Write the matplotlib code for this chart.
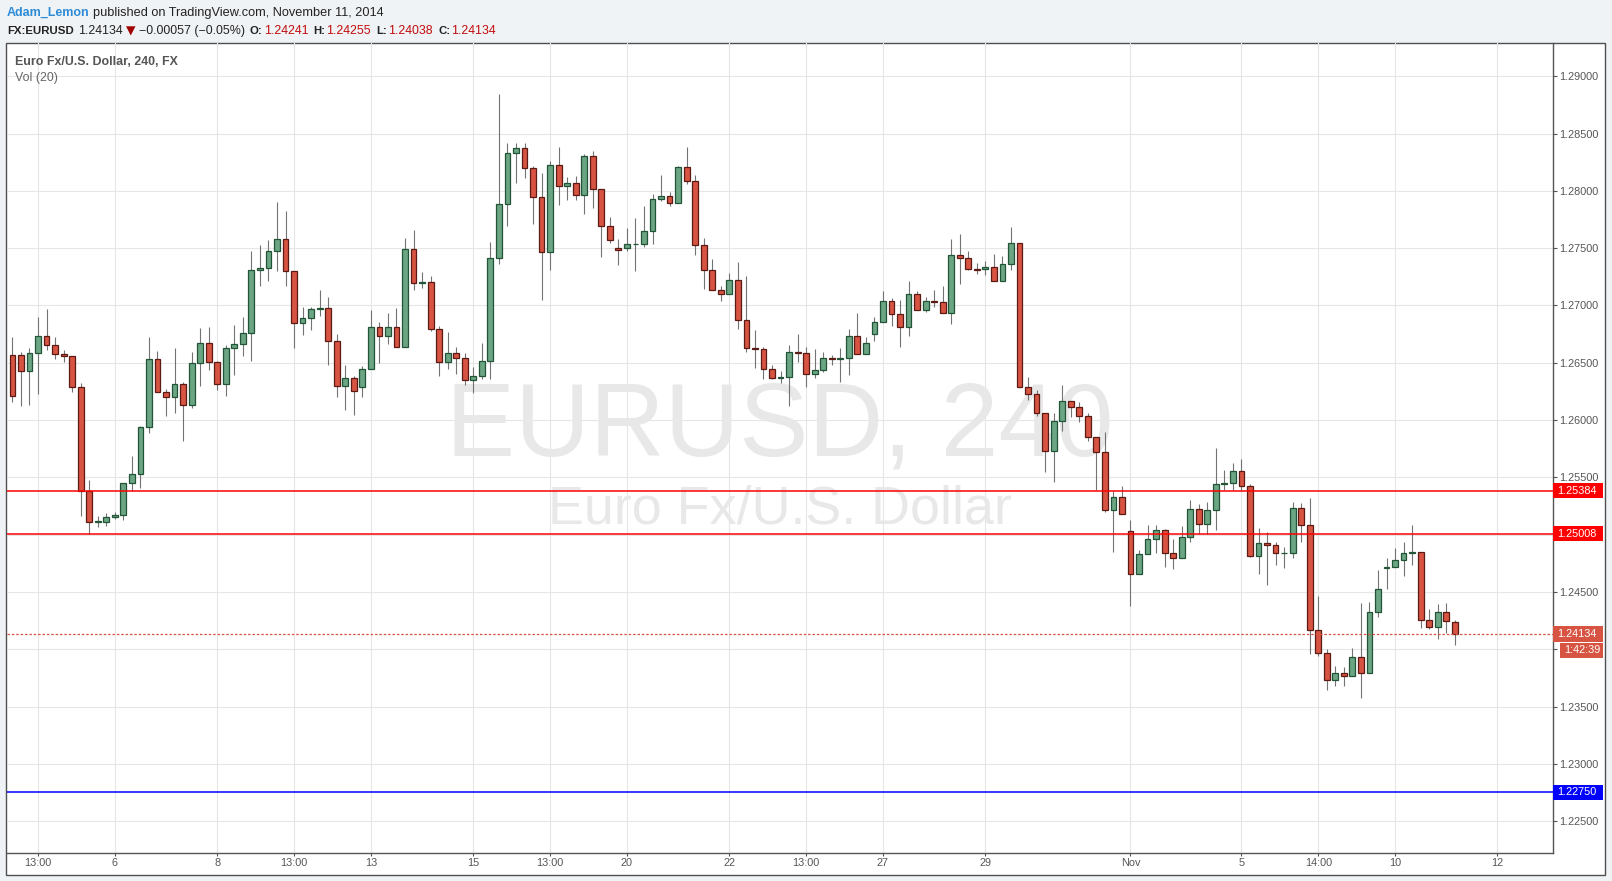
import matplotlib
matplotlib.use('Agg')
import matplotlib.pyplot as plt
import matplotlib.transforms as mtrans
from matplotlib.patches import Rectangle
import numpy as np

# ---------------- data (EURUSD, 240 min candles) ----------------
opens = [1.26564, 1.26564, 1.26424, 1.26581, 1.26730, 1.26651, 1.26573, 1.26555, 1.26285, 1.25377,
         1.25106, 1.25106, 1.25150, 1.25168, 1.25447, 1.25525, 1.25936, 1.26529, 1.26241, 1.26197,
         1.26311, 1.26128, 1.26494, 1.26669, 1.26503, 1.26311, 1.26625, 1.26660, 1.26756, 1.27310,
         1.27327, 1.27475, 1.27580, 1.27301, 1.26847, 1.26891, 1.26969, 1.26978, 1.26690, 1.26297,
         1.26367, 1.26289, 1.26446, 1.26812, 1.26734, 1.26812, 1.26638, 1.27493, 1.27196, 1.27205,
         1.26795, 1.26507, 1.26585, 1.26542, 1.26350, 1.26385, 1.26516, 1.27414, 1.27886, 1.28331,
         1.28375, 1.28200, 1.27947, 1.27467, 1.28226, 1.28043, 1.28069, 1.27965, 1.28305, 1.28017,
         1.27694, 1.27502, 1.27502, 1.27537, 1.27537, 1.27650, 1.27930, 1.27956, 1.27895, 1.28209,
         1.28087, 1.27528, 1.27306, 1.27131, 1.27096, 1.27219, 1.26869, 1.26625, 1.26616, 1.26442,
         1.26363, 1.26372, 1.26590, 1.26581, 1.26398, 1.26433, 1.26538, 1.26529, 1.26538, 1.26730,
         1.26573, 1.26747, 1.26852, 1.27035, 1.26922, 1.26808, 1.27096, 1.26957, 1.27035, 1.27027,
         1.26931, 1.27437, 1.27411, 1.27315, 1.27315, 1.27332, 1.27210, 1.27358, 1.27541, 1.26285,
         1.26224, 1.26058, 1.25726, 1.25988, 1.26163, 1.26110, 1.26032, 1.25848, 1.25717, 1.25211,
         1.25325, 1.25028, 1.24653, 1.24827, 1.24958, 1.25037, 1.24836, 1.24792, 1.24976, 1.25220,
         1.25089, 1.25211, 1.25438, 1.25447, 1.25552, 1.25421, 1.24810, 1.24923, 1.24907, 1.24837,
         1.24837, 1.25230, 1.25081, 1.24165, 1.23964, 1.23729, 1.23790, 1.23763, 1.23929, 1.23790,
         1.24322, 1.24712, 1.24715, 1.24776, 1.24837, 1.24846, 1.24252, 1.24191, 1.24322, 1.24241]
highs = [1.26724, 1.26593, 1.26625, 1.26898, 1.26968, 1.26724, 1.26610, 1.26555, 1.26320, 1.25476,
         1.25162, 1.25188, 1.25197, 1.25447, 1.25685, 1.25947, 1.26724, 1.26602, 1.26273, 1.26628,
         1.26328, 1.26593, 1.26802, 1.26811, 1.26514, 1.26654, 1.26829, 1.26898, 1.27473, 1.27531,
         1.27574, 1.27900, 1.27828, 1.27301, 1.26990, 1.26984, 1.27138, 1.27077, 1.26754, 1.26484,
         1.26388, 1.26469, 1.26964, 1.26859, 1.26937, 1.26981, 1.27592, 1.27662, 1.27295, 1.27260,
         1.26824, 1.26772, 1.26641, 1.26588, 1.26463, 1.26676, 1.27551, 1.28849, 1.28421, 1.28421,
         1.28421, 1.28220, 1.28151, 1.28264, 1.28378, 1.28122, 1.28130, 1.28325, 1.28343, 1.28017,
         1.27775, 1.27581, 1.27677, 1.27767, 1.27871, 1.27973, 1.28142, 1.27991, 1.28220, 1.28386,
         1.28142, 1.27589, 1.27405, 1.27169, 1.27283, 1.27379, 1.27256, 1.26785, 1.26634, 1.26480,
         1.26427, 1.26654, 1.26750, 1.26637, 1.26619, 1.26593, 1.26567, 1.26628, 1.26794, 1.26933,
         1.26724, 1.26899, 1.27125, 1.27064, 1.27047, 1.27213, 1.27125, 1.27070, 1.27134, 1.27169,
         1.27579, 1.27623, 1.27472, 1.27370, 1.27387, 1.27448, 1.27431, 1.27684, 1.27541, 1.26375,
         1.26261, 1.26058, 1.26061, 1.26305, 1.26163, 1.26157, 1.26061, 1.25848, 1.25895, 1.25380,
         1.25424, 1.25127, 1.24865, 1.25086, 1.25086, 1.25048, 1.24961, 1.25075, 1.25301, 1.25267,
         1.25284, 1.25755, 1.25563, 1.25621, 1.25659, 1.25438, 1.25058, 1.25023, 1.24933, 1.24889,
         1.25285, 1.25276, 1.25320, 1.24465, 1.23999, 1.23854, 1.23842, 1.24011, 1.24404, 1.24412,
         1.24692, 1.24799, 1.24884, 1.24936, 1.25084, 1.24846, 1.24351, 1.24395, 1.24404, 1.24255]
lows = [1.26160, 1.26125, 1.26133, 1.26229, 1.26613, 1.26535, 1.26509, 1.26247, 1.25165, 1.25002,
        1.25069, 1.25077, 1.25138, 1.25130, 1.25377, 1.25409, 1.25889, 1.26241, 1.26037, 1.26064,
        1.25819, 1.26107, 1.26299, 1.26439, 1.26264, 1.26212, 1.26395, 1.26561, 1.26513, 1.27173,
        1.27211, 1.27298, 1.27173, 1.26626, 1.26740, 1.26783, 1.26905, 1.26484, 1.26198, 1.26085,
        1.26041, 1.26198, 1.26446, 1.26495, 1.26661, 1.26638, 1.26638, 1.27132, 1.27150, 1.26774,
        1.26382, 1.26443, 1.26399, 1.26303, 1.26236, 1.26361, 1.26361, 1.27357, 1.27691, 1.28066,
        1.28110, 1.27709, 1.27045, 1.27307, 1.27874, 1.27918, 1.27918, 1.27796, 1.27848, 1.27421,
        1.27543, 1.27351, 1.27476, 1.27298, 1.27508, 1.27534, 1.27909, 1.27866, 1.27895, 1.28058,
        1.27438, 1.27143, 1.27131, 1.27041, 1.27096, 1.26797, 1.26596, 1.26456, 1.26360, 1.26360,
        1.26320, 1.26125, 1.26509, 1.26291, 1.26363, 1.26421, 1.26483, 1.26334, 1.26395, 1.26573,
        1.26573, 1.26692, 1.26852, 1.26823, 1.26640, 1.26736, 1.26957, 1.26939, 1.26989, 1.26931,
        1.26835, 1.27189, 1.27306, 1.27271, 1.27262, 1.27210, 1.27210, 1.27312, 1.26285, 1.26177,
        1.26037, 1.25549, 1.25461, 1.25907, 1.26023, 1.25979, 1.25819, 1.25389, 1.25194, 1.24851,
        1.25176, 1.24379, 1.24653, 1.24827, 1.24842, 1.24720, 1.24702, 1.24792, 1.24938, 1.25002,
        1.25002, 1.25043, 1.25389, 1.25389, 1.25383, 1.24801, 1.24660, 1.24564, 1.24738, 1.24712,
        1.24799, 1.24939, 1.23961, 1.23944, 1.23647, 1.23682, 1.23682, 1.23763, 1.23577, 1.23790,
        1.24284, 1.24529, 1.24715, 1.24642, 1.24738, 1.24188, 1.24180, 1.24092, 1.24139, 1.24038]
closes = [1.26206, 1.26424, 1.26581, 1.26730, 1.26651, 1.26573, 1.26555, 1.26285, 1.25377, 1.25106,
          1.25118, 1.25150, 1.25168, 1.25447, 1.25525, 1.25936, 1.26529, 1.26241, 1.26197, 1.26311,
          1.26128, 1.26494, 1.26669, 1.26503, 1.26311, 1.26625, 1.26660, 1.26756, 1.27313, 1.27327,
          1.27475, 1.27580, 1.27301, 1.26847, 1.26891, 1.26969, 1.26978, 1.26690, 1.26297, 1.26367,
          1.26254, 1.26446, 1.26812, 1.26734, 1.26812, 1.26638, 1.27493, 1.27196, 1.27205, 1.26795,
          1.26507, 1.26585, 1.26542, 1.26350, 1.26385, 1.26516, 1.27414, 1.27886, 1.28331, 1.28375,
          1.28200, 1.27947, 1.27467, 1.28226, 1.28043, 1.28069, 1.27965, 1.28305, 1.28017, 1.27694,
          1.27572, 1.27485, 1.27537, 1.27540, 1.27650, 1.27930, 1.27956, 1.27895, 1.28209, 1.28087,
          1.27528, 1.27306, 1.27131, 1.27096, 1.27219, 1.26869, 1.26625, 1.26616, 1.26442, 1.26363,
          1.26372, 1.26590, 1.26581, 1.26398, 1.26433, 1.26538, 1.26529, 1.26538, 1.26730, 1.26573,
          1.26669, 1.26852, 1.27035, 1.26922, 1.26808, 1.27096, 1.26957, 1.27035, 1.27027, 1.26931,
          1.27437, 1.27411, 1.27315, 1.27313, 1.27332, 1.27210, 1.27358, 1.27541, 1.26285, 1.26224,
          1.26058, 1.25726, 1.25988, 1.26163, 1.26110, 1.26032, 1.25848, 1.25717, 1.25211, 1.25325,
          1.25176, 1.24653, 1.24827, 1.24958, 1.25037, 1.24836, 1.24792, 1.24976, 1.25220, 1.25089,
          1.25211, 1.25438, 1.25447, 1.25552, 1.25421, 1.24810, 1.24923, 1.24907, 1.24837, 1.24840,
          1.25230, 1.25081, 1.24165, 1.23964, 1.23729, 1.23790, 1.23763, 1.23929, 1.23790, 1.24322,
          1.24523, 1.24715, 1.24776, 1.24837, 1.24846, 1.24252, 1.24191, 1.24322, 1.24244, 1.24134]

xtick_pos = [3, 12, 24, 33, 42, 54, 63, 72, 84, 93, 102, 114, 131, 144, 153, 162, 174]
xtick_labels = ['13:00', '6', '8', '13:00', '13', '15', '13:00', '20', '22', '13:00',
                '27', '29', 'Nov', '5', '14:00', '10', '12']
ytick_vals = [1.22500, 1.23000, 1.23500, 1.24000, 1.24500, 1.25000, 1.25500,
              1.26000, 1.26500, 1.27000, 1.27500, 1.28000, 1.28500, 1.29000]
red_levels = [1.25384, 1.25008]
blue_level = 1.22750
last_price = 1.24134
countdown = '1:42:39'

# ---------------- figure ----------------
W, H = 1612, 881
FONT = ['Liberation Sans', 'DejaVu Sans']
plt.rcParams['font.family'] = FONT

fig = plt.figure(figsize=(W / 100, H / 100), dpi=100, facecolor='#f0f3f6')

# outer white chart frame (behind the axes)
fig.patches.append(Rectangle((6 / W, (H - 874.5) / H), (1605 - 6) / W, (874.5 - 43) / H,
                             transform=fig.transFigure, facecolor='white',
                             edgecolor='#4f4f4f', lw=1.0, zorder=-10))

ax_l, ax_r, ax_t, ax_b = 7.2, 1553.3, 43.2, 852.5
ax = fig.add_axes([ax_l / W, (H - ax_b) / H, (ax_r - ax_l) / W, (ax_b - ax_t) / H])
ax.set_facecolor('none')
ax.set_zorder(1)

YMIN, YMAX = 1.22226, 1.29288
n = len(opens)
x = np.arange(n)
o = np.array(opens); h = np.array(highs); l = np.array(lows); c = np.array(closes)
up = c >= o

ax.set_xlim(-0.61, 180.54)
ax.set_ylim(YMIN, YMAX)

ax_w_px = ax_r - ax_l
px_per_unit = (ax_b - ax_t) / (YMAX - YMIN)
cd_offset_px = 16.5
cd_price = last_price - cd_offset_px / px_per_unit

# grid / ticks (labels hidden behind the countdown box are left blank, as on the source)
ax.set_yticks(ytick_vals)
ax.set_yticklabels(['' if abs(v - cd_price) * px_per_unit < 10 else '%.5f' % v
                    for v in ytick_vals])
ax.yaxis.tick_right()
ax.set_xticks(xtick_pos)
ax.set_xticklabels(xtick_labels)
ax.grid(True, color='#e6e6e6', lw=0.8, zorder=0)
ax.set_axisbelow(True)
ax.tick_params(axis='y', direction='out', length=3, width=0.8, color='#555555',
               pad=1.0, labelsize=7.8, labelcolor='#555555')
ax.tick_params(axis='x', direction='out', length=2.5, width=0.8, color='#555555',
               pad=1.5, labelsize=7.8, labelcolor='#555555')
for s in ['top', 'left']:
    ax.spines[s].set_visible(False)
for s in ['right', 'bottom']:
    ax.spines[s].set_color('#555555')
    ax.spines[s].set_linewidth(1.0)

# watermark
ax.text(0.4995, 0.4907, 'EURUSD, 240', transform=ax.transAxes, ha='center', va='baseline',
        fontsize=74.5, color='#e8e8e8', zorder=1)
ax.text(0.4995, 0.4068, 'Euro Fx/U.S. Dollar', transform=ax.transAxes, ha='center', va='baseline',
        fontsize=38.8, color='#e8e8e8', zorder=1)

# candles
ax.vlines(x, l, h, color='#737375', lw=0.8, zorder=2)
fills = np.where(up, '#6ba583', '#d75442')
edges = np.where(up, '#225437', '#5b1a13')
ax.bar(x, np.abs(c - o), bottom=np.minimum(o, c), width=0.68, color=fills,
       edgecolor=edges, linewidth=0.9, zorder=3)

# horizontal levels
for lv in red_levels:
    ax.axhline(lv, color='#ff0000', lw=1.1, zorder=4)
ax.axhline(blue_level, color='#0000ff', lw=1.1, zorder=4)
ax.axhline(last_price, color='#d75442', lw=0.9, ls=(0, (2, 1.5)), zorder=4)

# right axis price labels
trans = mtrans.blended_transform_factory(ax.transAxes, ax.transData)
box_h = 15.5 / px_per_unit
box_w = 50 / ax_w_px


def price_box(yc, text, color, x0=1.0, w=box_w):
    ax.add_patch(Rectangle((x0, yc - box_h / 2), w, box_h, transform=trans,
                           facecolor=color, edgecolor='none', clip_on=False, zorder=10))
    ax.text(x0 + 3.5 / ax_w_px, yc, text, transform=trans, ha='left', va='center',
            fontsize=7.8, color='white', clip_on=False, zorder=11)


for lv in red_levels:
    price_box(lv, '%.5f' % lv, '#ff0000')
price_box(blue_level, '%.5f' % blue_level, '#0000ff')
price_box(last_price, '%.5f' % last_price, '#d75442')
price_box(cd_price, countdown, '#d75442', x0=1.0 + 7 / ax_w_px, w=43 / ax_w_px)

# chart titles inside
fig.text(15.3 / W, (H - 65) / H, 'Euro Fx/U.S. Dollar, 240, FX', fontsize=8.9,
         fontweight='bold', color='#555555', va='baseline')
fig.text(15.3 / W, (H - 81.5) / H, 'Vol (20)', fontsize=8.9, color='#666666', va='baseline')

# header: pieces chained one after another
renderer = fig.canvas.get_renderer()


def chain(x0, yb, pieces):
    xp = x0
    for s, color, bold, fam, size, gap in pieces:
        t = fig.text(xp / W, (H - yb) / H, s, fontsize=size, color=color, va='baseline',
                     fontweight='bold' if bold else 'normal', family=fam)
        bb = t.get_window_extent(renderer)
        xp = bb.x1 + gap


dark = '#222222'
red_val = '#c20d0d'
B, R = 8.2, 8.9
chain(7, 16.2, [('Adam_Lemon', '#2e8bd6', True, FONT, 9.0, 3),
                ('published on TradingView.com, November 11, 2014', dark, False, FONT, 9.2, 0)])
chain(7, 34.3, [('FX:EURUSD', dark, True, FONT, B, 4),
                ('1.24134', dark, False, FONT, R, 4),
                ('\u25bc', '#a00000', False, ['DejaVu Sans'], R, 3),
                ('\u22120.00057 (\u22120.05%)', dark, False, FONT, R, 5),
                ('O:', dark, True, FONT, B, 1),
                ('1.24241', red_val, False, FONT, R, 5),
                ('H:', dark, True, FONT, B, 1),
                ('1.24255', red_val, False, FONT, R, 5),
                ('L:', dark, True, FONT, B, 1),
                ('1.24038', red_val, False, FONT, R, 6),
                ('C:', dark, True, FONT, B, 1),
                ('1.24134', red_val, False, FONT, R, 0)])

fig.savefig('out.png', dpi=100, facecolor=fig.get_facecolor())
